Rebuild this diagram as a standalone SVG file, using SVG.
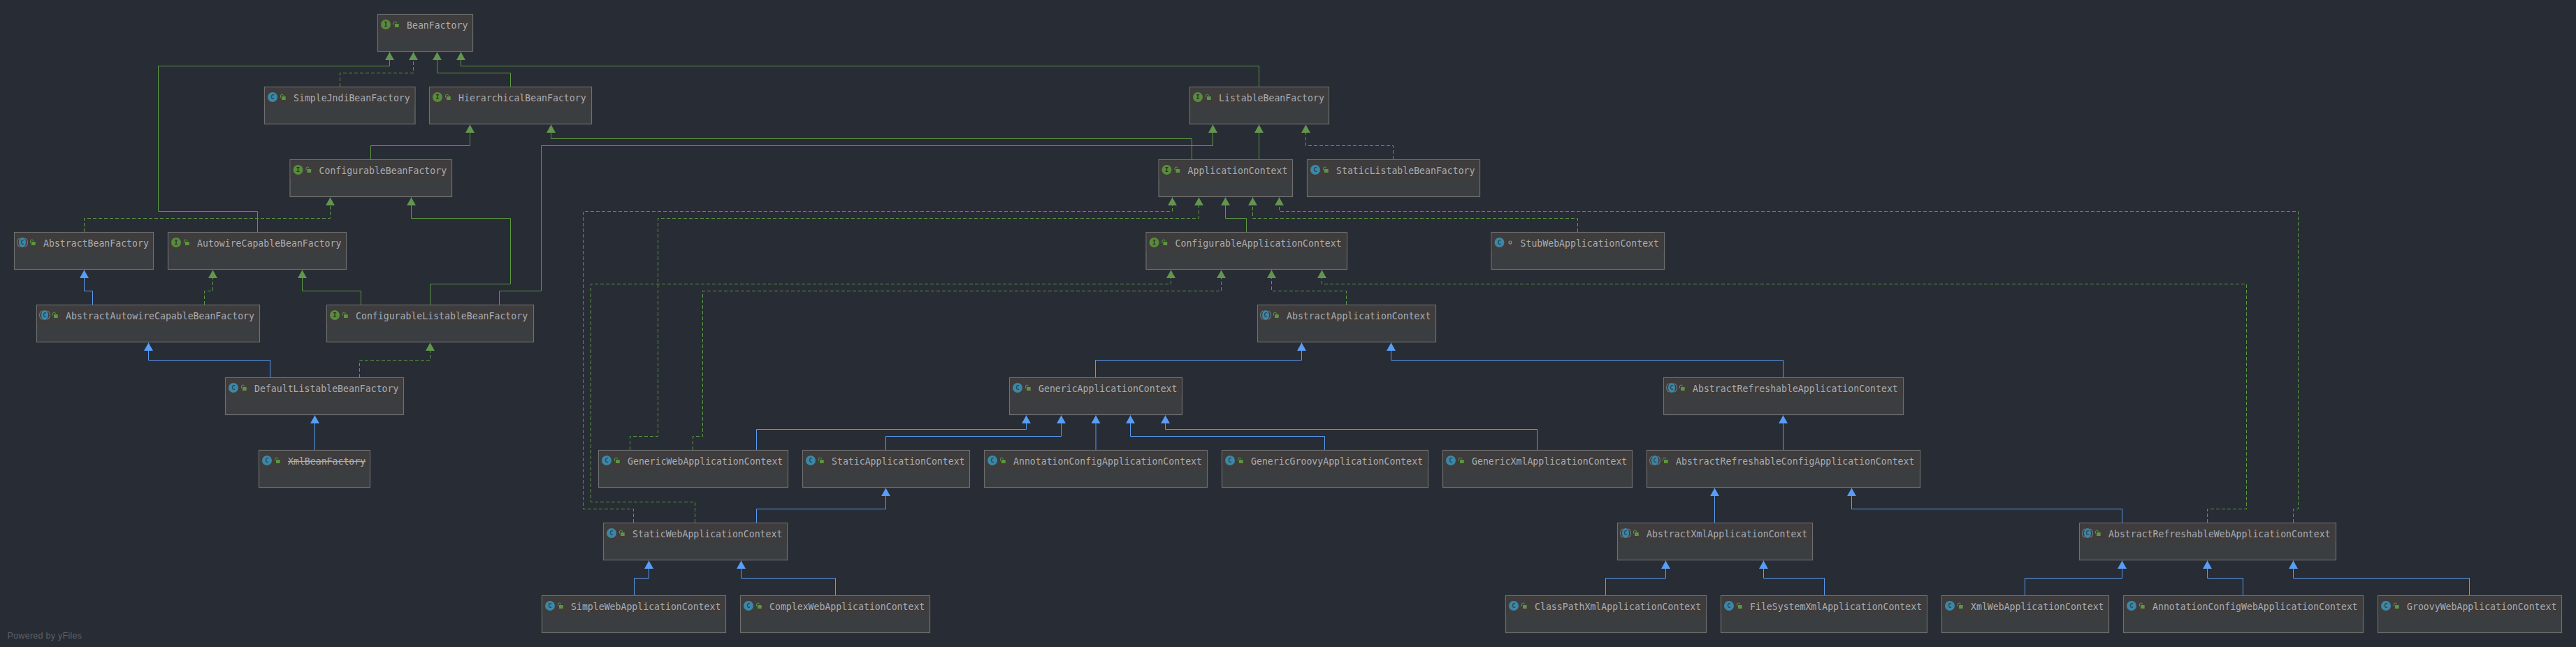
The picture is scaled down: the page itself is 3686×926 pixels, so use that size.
<svg xmlns="http://www.w3.org/2000/svg" xmlns:xlink="http://www.w3.org/1999/xlink" width="3686" height="926" viewBox="0 0 3686 926">
<style>
.bg{fill:#282c34}
.b{fill:#3b3e40;stroke:#6e6e6e;stroke-width:1.2}
.h{fill:#3e3c3c}
.t{font-family:"DejaVu Sans Mono","Liberation Mono",monospace;font-size:13.2px;fill:#a8adb4}
.s{text-decoration:line-through}
.ic{font-family:"DejaVu Sans Mono","Liberation Mono",monospace;font-size:9px;font-weight:bold;text-anchor:middle}
.foot{font-family:"Liberation Sans",Arial,sans-serif;font-size:12.5px;letter-spacing:.28px;fill:#5e6166}
path.e{fill:none;stroke-width:1}
.g{stroke:#5a9a41;marker-end:url(#ag)}
.gd{stroke:#5a9a41;stroke-dasharray:5 3;marker-end:url(#ag)}
.bl{stroke:#589df6;marker-end:url(#ab)}
.lb{fill:#5c9640}
.ls{fill:none;stroke:#5c9640;stroke-width:1}
</style>
<defs>
<marker id="ag" markerUnits="userSpaceOnUse" markerWidth="12" markerHeight="13" refX="11.5" refY="6.5" orient="auto"><path d="M0 0L11.5 6.5L0 13Z" fill="#62964f"/></marker>
<marker id="ab" markerUnits="userSpaceOnUse" markerWidth="12" markerHeight="13" refX="11.5" refY="6.5" orient="auto"><path d="M0 0L11.5 6.5L0 13Z" fill="#589df6"/></marker>
<g id="lock"><rect class="lb" x="24.5" y="13.5" width="5.7" height="5"/><path class="ls" d="M23 15V12.5a2 2 0 0 1 4 0"/></g>
<g id="iI"><circle cx="11.5" cy="14.5" r="7" fill="#598b3c"/><text class="ic" x="11.5" y="17.6" fill="#28321f">I</text><use href="#lock"/></g>
<g id="iC"><circle cx="11.5" cy="14.5" r="7" fill="#3d87a6"/><text class="ic" x="11.5" y="17.6" fill="#264757">C</text><use href="#lock"/></g>
<g id="iA"><path d="M8 8.2a7 7 0 0 0 0 12.6M15 8.2a7 7 0 0 1 0 12.6" fill="none" stroke="#6d7880" stroke-width="1.2"/><ellipse cx="11.5" cy="14.5" rx="5" ry="7" fill="#3d87a6"/><text class="ic" x="11.5" y="17.6" fill="#264757">C</text><use href="#lock"/></g>
<g id="iS"><circle cx="11.5" cy="14.5" r="7" fill="#3d87a6"/><text class="ic" x="11.5" y="17.6" fill="#264757">C</text><circle cx="27" cy="14.5" r="2" fill="none" stroke="#8a939b" stroke-width="1.2"/></g>
</defs>
<rect class="bg" width="3686" height="926"/>
<g id="connectors">
<path class="e g" d="M368.5 332V302.5H226.5V94.5H557.5V74.5"/>
<path class="e gd" d="M486.5 124V104.5H591.5V74.5"/>
<path class="e g" d="M730.5 124V104.5H625.5V74.5"/>
<path class="e g" d="M1801.5 124V94.5H659.5V74.5"/>
<path class="e g" d="M530.5 228V208.5H672.5V178.5"/>
<path class="e g" d="M1705.5 228V198.5H788.5V178.5"/>
<path class="e g" d="M714.5 436V416.5H774.5V208.5H1735.5V178.5"/>
<path class="e g" d="M1801.5 228V178.5"/>
<path class="e gd" d="M1993.5 228V208.5H1868.5V178.5"/>
<path class="e gd" d="M120.5 332V312.5H472.5V282.5"/>
<path class="e g" d="M615.5 436V406.5H730.5V312.5H588.5V282.5"/>
<path class="e gd" d="M292.5 436V416.5H304.5V386.5"/>
<path class="e g" d="M516.5 436V416.5H432.5V386.5"/>
<path class="e bl" d="M132.5 436V416.5H120.5V386.5"/>
<path class="e bl" d="M386.5 540V515.5H212.5V490.5"/>
<path class="e gd" d="M514.5 540V515.5H615.5V490.5"/>
<path class="e bl" d="M450.5 644V594.5"/>
<path class="e gd" d="M906.5 748V728.5H834.5V302.5H1677.5V282.5"/>
<path class="e gd" d="M901.5 644V624.5H941.5V312.5H1715.5V282.5"/>
<path class="e g" d="M1783.5 332V312.5H1753.5V282.5"/>
<path class="e gd" d="M2257.5 332V312.5H1792.5V282.5"/>
<path class="e gd" d="M3281.5 748V728.5H3288.5V302.5H1830.5V282.5"/>
<path class="e gd" d="M994.5 748V718.5H845.5V406.5H1675.5V386.5"/>
<path class="e gd" d="M991.5 644V624.5H1005.5V416.5H1747.5V386.5"/>
<path class="e gd" d="M1926.5 436V416.5H1819.5V386.5"/>
<path class="e gd" d="M3158.5 748V728.5H3214.5V406.5H1891.5V386.5"/>
<path class="e bl" d="M1567.5 540V515.5H1862.5V490.5"/>
<path class="e bl" d="M2551.5 540V515.5H1990.5V490.5"/>
<path class="e bl" d="M1082.5 644V614.5H1468.5V594.5"/>
<path class="e bl" d="M1267.5 644V624.5H1518.5V594.5"/>
<path class="e bl" d="M1568 644V594.5"/>
<path class="e bl" d="M1895.5 644V624.5H1617.5V594.5"/>
<path class="e bl" d="M2199.5 644V614.5H1667.5V594.5"/>
<path class="e bl" d="M2551.5 644V594.5"/>
<path class="e bl" d="M2453.5 748V698.5"/>
<path class="e bl" d="M3036.5 748V728.5H2649.5V698.5"/>
<path class="e bl" d="M1082.5 748V728.5H1267.5V698.5"/>
<path class="e bl" d="M907.5 852V827.5H928.5V802.5"/>
<path class="e bl" d="M1195.5 852V827.5H1060.5V802.5"/>
<path class="e bl" d="M2297.5 852V827.5H2383.5V802.5"/>
<path class="e bl" d="M2610.5 852V827.5H2523.5V802.5"/>
<path class="e bl" d="M2897.5 852V827.5H3036.5V802.5"/>
<path class="e bl" d="M3209.5 852V827.5H3158.5V802.5"/>
<path class="e bl" d="M3533.5 852V827.5H3281.5V802.5"/>
</g>
<g id="BeanFactory" transform="translate(540.5,20.5)"><rect class="b" width="136" height="53"/><rect class="h" x=".6" y=".6" width="134.8" height="26"/><use href="#iI"/><text class="t" x="41.5" y="20">BeanFactory</text></g>
<g id="SimpleJndiBeanFactory" transform="translate(378.5,124.5)"><rect class="b" width="215.5" height="53"/><rect class="h" x=".6" y=".6" width="214.3" height="26"/><use href="#iC"/><text class="t" x="41.5" y="20">SimpleJndiBeanFactory</text></g>
<g id="HierarchicalBeanFactory" transform="translate(614.5,124.5)"><rect class="b" width="232" height="53"/><rect class="h" x=".6" y=".6" width="230.8" height="26"/><use href="#iI"/><text class="t" x="41.5" y="20">HierarchicalBeanFactory</text></g>
<g id="ListableBeanFactory" transform="translate(1702.5,124.5)"><rect class="b" width="199" height="53"/><rect class="h" x=".6" y=".6" width="197.8" height="26"/><use href="#iI"/><text class="t" x="41.5" y="20">ListableBeanFactory</text></g>
<g id="ConfigurableBeanFactory" transform="translate(415,228.5)"><rect class="b" width="231.5" height="53"/><rect class="h" x=".6" y=".6" width="230.3" height="26"/><use href="#iI"/><text class="t" x="41.5" y="20">ConfigurableBeanFactory</text></g>
<g id="ApplicationContext" transform="translate(1658,228.5)"><rect class="b" width="191.5" height="53"/><rect class="h" x=".6" y=".6" width="190.3" height="26"/><use href="#iI"/><text class="t" x="41.5" y="20">ApplicationContext</text></g>
<g id="StaticListableBeanFactory" transform="translate(1870.5,228.5)"><rect class="b" width="247" height="53"/><rect class="h" x=".6" y=".6" width="245.8" height="26"/><use href="#iC"/><text class="t" x="41.5" y="20">StaticListableBeanFactory</text></g>
<g id="AbstractBeanFactory" transform="translate(20.5,332.5)"><rect class="b" width="199" height="53"/><rect class="h" x=".6" y=".6" width="197.8" height="26"/><use href="#iA"/><text class="t" x="41.5" y="20">AbstractBeanFactory</text></g>
<g id="AutowireCapableBeanFactory" transform="translate(240.5,332.5)"><rect class="b" width="255" height="53"/><rect class="h" x=".6" y=".6" width="253.8" height="26"/><use href="#iI"/><text class="t" x="41.5" y="20">AutowireCapableBeanFactory</text></g>
<g id="ConfigurableApplicationContext" transform="translate(1640,332.5)"><rect class="b" width="287.5" height="53"/><rect class="h" x=".6" y=".6" width="286.3" height="26"/><use href="#iI"/><text class="t" x="41.5" y="20">ConfigurableApplicationContext</text></g>
<g id="StubWebApplicationContext" transform="translate(2134,332.5)"><rect class="b" width="247.5" height="53"/><rect class="h" x=".6" y=".6" width="246.3" height="26"/><use href="#iS"/><text class="t" x="41.5" y="20">StubWebApplicationContext</text></g>
<g id="AbstractAutowireCapableBeanFactory" transform="translate(52.5,436.5)"><rect class="b" width="319" height="53"/><rect class="h" x=".6" y=".6" width="317.8" height="26"/><use href="#iA"/><text class="t" x="41.5" y="20">AbstractAutowireCapableBeanFactory</text></g>
<g id="ConfigurableListableBeanFactory" transform="translate(467.5,436.5)"><rect class="b" width="296" height="53"/><rect class="h" x=".6" y=".6" width="294.8" height="26"/><use href="#iI"/><text class="t" x="41.5" y="20">ConfigurableListableBeanFactory</text></g>
<g id="AbstractApplicationContext" transform="translate(1799.5,436.5)"><rect class="b" width="255" height="53"/><rect class="h" x=".6" y=".6" width="253.8" height="26"/><use href="#iA"/><text class="t" x="41.5" y="20">AbstractApplicationContext</text></g>
<g id="DefaultListableBeanFactory" transform="translate(322.5,540.5)"><rect class="b" width="255" height="53"/><rect class="h" x=".6" y=".6" width="253.8" height="26"/><use href="#iC"/><text class="t" x="41.5" y="20">DefaultListableBeanFactory</text></g>
<g id="GenericApplicationContext" transform="translate(1444.5,540.5)"><rect class="b" width="247" height="53"/><rect class="h" x=".6" y=".6" width="245.8" height="26"/><use href="#iC"/><text class="t" x="41.5" y="20">GenericApplicationContext</text></g>
<g id="AbstractRefreshableApplicationContext" transform="translate(2380.5,540.5)"><rect class="b" width="343" height="53"/><rect class="h" x=".6" y=".6" width="341.8" height="26"/><use href="#iA"/><text class="t" x="41.5" y="20">AbstractRefreshableApplicationContext</text></g>
<g id="XmlBeanFactory" transform="translate(370.5,644.5)"><rect class="b" width="159" height="53"/><rect class="h" x=".6" y=".6" width="157.8" height="26"/><use href="#iC"/><text class="t s" x="41.5" y="20">XmlBeanFactory</text></g>
<g id="GenericWebApplicationContext" transform="translate(856.5,644.5)"><rect class="b" width="271" height="53"/><rect class="h" x=".6" y=".6" width="269.8" height="26"/><use href="#iC"/><text class="t" x="41.5" y="20">GenericWebApplicationContext</text></g>
<g id="StaticApplicationContext" transform="translate(1148.5,644.5)"><rect class="b" width="239" height="53"/><rect class="h" x=".6" y=".6" width="237.8" height="26"/><use href="#iC"/><text class="t" x="41.5" y="20">StaticApplicationContext</text></g>
<g id="AnnotationConfigApplicationContext" transform="translate(1408.5,644.5)"><rect class="b" width="319" height="53"/><rect class="h" x=".6" y=".6" width="317.8" height="26"/><use href="#iC"/><text class="t" x="41.5" y="20">AnnotationConfigApplicationContext</text></g>
<g id="GenericGroovyApplicationContext" transform="translate(1748.5,644.5)"><rect class="b" width="295" height="53"/><rect class="h" x=".6" y=".6" width="293.8" height="26"/><use href="#iC"/><text class="t" x="41.5" y="20">GenericGroovyApplicationContext</text></g>
<g id="GenericXmlApplicationContext" transform="translate(2064.5,644.5)"><rect class="b" width="271" height="53"/><rect class="h" x=".6" y=".6" width="269.8" height="26"/><use href="#iC"/><text class="t" x="41.5" y="20">GenericXmlApplicationContext</text></g>
<g id="AbstractRefreshableConfigApplicationContext" transform="translate(2356.5,644.5)"><rect class="b" width="391" height="53"/><rect class="h" x=".6" y=".6" width="389.8" height="26"/><use href="#iA"/><text class="t" x="41.5" y="20">AbstractRefreshableConfigApplicationContext</text></g>
<g id="StaticWebApplicationContext" transform="translate(863.5,748.5)"><rect class="b" width="263" height="53"/><rect class="h" x=".6" y=".6" width="261.8" height="26"/><use href="#iC"/><text class="t" x="41.5" y="20">StaticWebApplicationContext</text></g>
<g id="AbstractXmlApplicationContext" transform="translate(2314.5,748.5)"><rect class="b" width="279" height="53"/><rect class="h" x=".6" y=".6" width="277.8" height="26"/><use href="#iA"/><text class="t" x="41.5" y="20">AbstractXmlApplicationContext</text></g>
<g id="AbstractRefreshableWebApplicationContext" transform="translate(2975.5,748.5)"><rect class="b" width="367" height="53"/><rect class="h" x=".6" y=".6" width="365.8" height="26"/><use href="#iA"/><text class="t" x="41.5" y="20">AbstractRefreshableWebApplicationContext</text></g>
<g id="SimpleWebApplicationContext" transform="translate(775.5,852.5)"><rect class="b" width="263" height="53"/><rect class="h" x=".6" y=".6" width="261.8" height="26"/><use href="#iC"/><text class="t" x="41.5" y="20">SimpleWebApplicationContext</text></g>
<g id="ComplexWebApplicationContext" transform="translate(1059.5,852.5)"><rect class="b" width="271" height="53"/><rect class="h" x=".6" y=".6" width="269.8" height="26"/><use href="#iC"/><text class="t" x="41.5" y="20">ComplexWebApplicationContext</text></g>
<g id="ClassPathXmlApplicationContext" transform="translate(2154.5,852.5)"><rect class="b" width="287" height="53"/><rect class="h" x=".6" y=".6" width="285.8" height="26"/><use href="#iC"/><text class="t" x="41.5" y="20">ClassPathXmlApplicationContext</text></g>
<g id="FileSystemXmlApplicationContext" transform="translate(2462.5,852.5)"><rect class="b" width="295" height="53"/><rect class="h" x=".6" y=".6" width="293.8" height="26"/><use href="#iC"/><text class="t" x="41.5" y="20">FileSystemXmlApplicationContext</text></g>
<g id="XmlWebApplicationContext" transform="translate(2778.5,852.5)"><rect class="b" width="239" height="53"/><rect class="h" x=".6" y=".6" width="237.8" height="26"/><use href="#iC"/><text class="t" x="41.5" y="20">XmlWebApplicationContext</text></g>
<g id="AnnotationConfigWebApplicationContext" transform="translate(3038.5,852.5)"><rect class="b" width="343" height="53"/><rect class="h" x=".6" y=".6" width="341.8" height="26"/><use href="#iC"/><text class="t" x="41.5" y="20">AnnotationConfigWebApplicationContext</text></g>
<g id="GroovyWebApplicationContext" transform="translate(3402.5,852.5)"><rect class="b" width="263" height="53"/><rect class="h" x=".6" y=".6" width="261.8" height="26"/><use href="#iC"/><text class="t" x="41.5" y="20">GroovyWebApplicationContext</text></g>
<text class="foot" x="10.5" y="914">Powered by yFiles</text>
</svg>
